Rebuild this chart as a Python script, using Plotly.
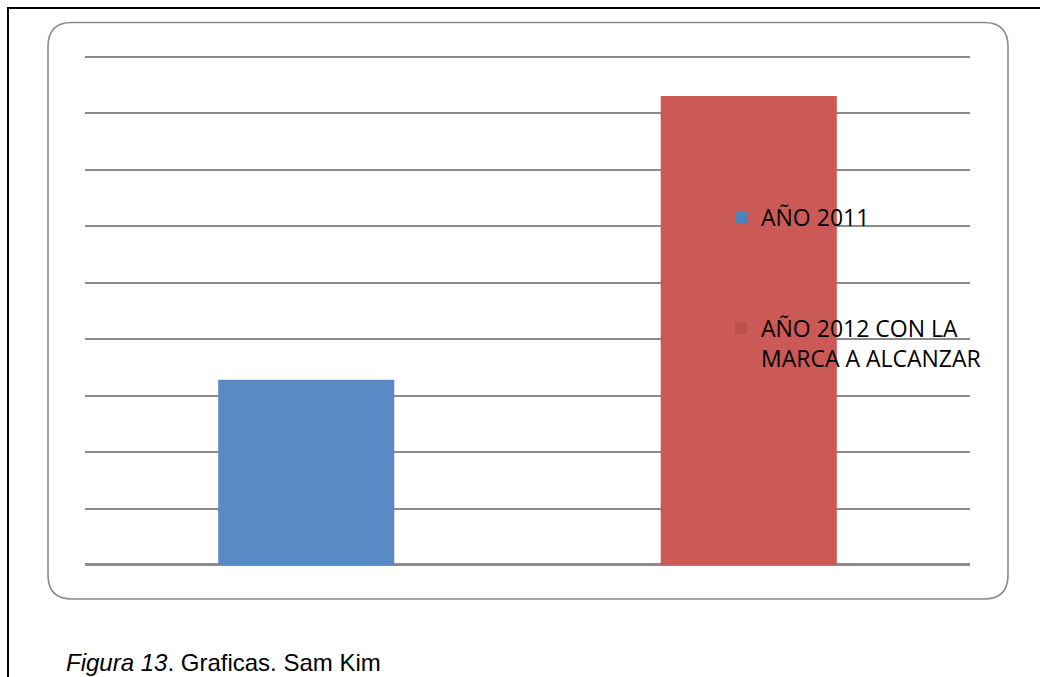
import plotly.graph_objects as go

W, H = 1040, 677

# Data
categories = ["AÑO 2011", "AÑO 2012 CON LA<br>MARCA A ALCANZAR"]
values = [3.28, 8.31]
bar_colors = ["#5a8ac6", "#cb5a57"]
key_colors = ["#4f81bd", "#bf4f4c"]
caption = "<i>Figura 13</i>. Graficas. Sam Kim"

def fx(px):
    return px / W

def fy(py):
    return 1 - py / H

fig = go.Figure()
for i, (name, v, c) in enumerate(zip(categories, values, bar_colors)):
    fig.add_trace(go.Bar(
        x=[i], y=[v], name=name, marker=dict(color=c, line=dict(width=0)),
        showlegend=False, hoverinfo="skip",
    ))
# legend keys (legend-only entries)
for i, (name, c) in enumerate(zip(categories, key_colors)):
    fig.add_trace(go.Bar(
        x=[i], y=[None], name=name, marker=dict(color=c, line=dict(width=0)),
        legendgroup=f"g{i}", showlegend=True, hoverinfo="skip",
    ))

# rounded rectangle frame (pixel coords -> paper)
L, T, R, B, r = 48, 22.5, 1008, 599, 24
path = (
    f"M {fx(L + r)},{fy(T)} L {fx(R - r)},{fy(T)} "
    f"Q {fx(R)},{fy(T)} {fx(R)},{fy(T + r)} "
    f"L {fx(R)},{fy(B - r)} Q {fx(R)},{fy(B)} {fx(R - r)},{fy(B)} "
    f"L {fx(L + r)},{fy(B)} Q {fx(L)},{fy(B)} {fx(L)},{fy(B - r)} "
    f"L {fx(L)},{fy(T + r)} Q {fx(L)},{fy(T)} {fx(L + r)},{fy(T)} Z"
)

shapes = [
    dict(type="path", xref="paper", yref="paper", path=path,
         line=dict(color="#8a8a8a", width=1.6), layer="below"),
    dict(type="line", xref="paper", yref="paper", x0=fx(7), x1=1.0, y0=fy(8), y1=fy(8),
         line=dict(color="#000000", width=2)),
    dict(type="line", xref="paper", yref="paper", x0=fx(8), x1=fx(8), y0=fy(7), y1=0,
         line=dict(color="#000000", width=2)),
]

unit = (565 - 57) / 9.0
ymax = 9.1

fig.update_layout(
    width=W, height=H,
    margin=dict(l=0, r=0, t=0, b=0),
    paper_bgcolor="white", plot_bgcolor="rgba(0,0,0,0)",
    barmode="overlay", bargap=0.602,
    showlegend=True,
    legend=dict(
        x=fx(721), y=fy(196), xanchor="left", yanchor="top",
        bgcolor="rgba(0,0,0,0)", borderwidth=0,
        font=dict(family="Open Sans", size=23, color="#000000"),
        traceorder="grouped", tracegroupgap=78, valign="top",
    ),
    xaxis=dict(domain=[fx(85), fx(970)], range=[-0.5, 1.5], showticklabels=False,
               showgrid=False, zeroline=False, showline=False, ticks=""),
    yaxis=dict(domain=[fy(565), fy(565 - unit * ymax)], range=[0, ymax], dtick=1,
               showticklabels=False,
               showgrid=True, gridcolor="#8c8c8c", gridwidth=2,
               zeroline=True, zerolinecolor="#8c8c8c", zerolinewidth=2.5,
               showline=False, ticks=""),
    shapes=shapes,
    annotations=[dict(
        text=caption, xref="paper", yref="paper", x=fx(64), y=fy(662),
        xanchor="left", yanchor="middle", showarrow=False,
        font=dict(family="Liberation Sans", size=24, color="#000000"),
    )],
)

fig.write_html("out.html")
